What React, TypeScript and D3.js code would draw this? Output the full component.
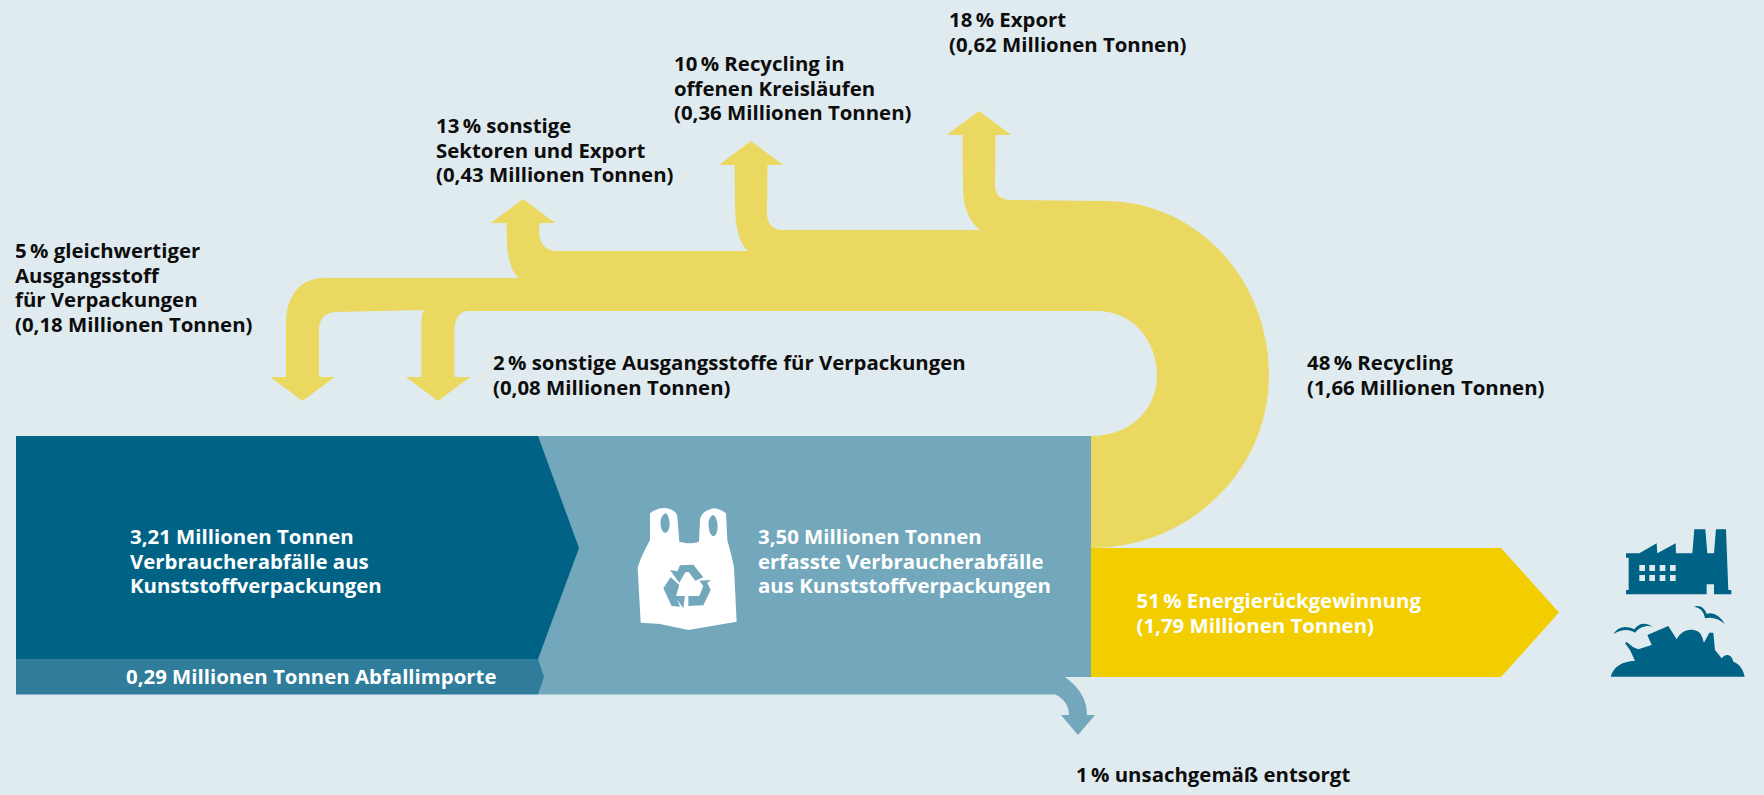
import React from "react";
import * as d3 from "d3";

// ---------- data (million tonnes, shares, labels) ----------
const collectedStack = [3.21, 0.29];
const recyclingTotal = [1.66];
const energyRecovery = [1.79];
const recyclingOutflows = [0.18, 0.08, 0.43, 0.36, 0.62];

const inputLabels = [
  ["3,21 Millionen Tonnen", "Verbraucherabfälle aus", "Kunststoffverpackungen"],
  ["0,29 Millionen Tonnen Abfallimporte"],
  ["3,50 Millionen Tonnen", "erfasste Verbraucherabfälle", "aus Kunststoffverpackungen"],
  ["51\u2009% Energierückgewinnung", "(1,79 Millionen Tonnen)"],
];
const outflowLabels = [
  ["5\u2009% gleichwertiger", "Ausgangsstoff", "für Verpackungen", "(0,18 Millionen Tonnen)"],
  ["2\u2009% sonstige Ausgangsstoffe für Verpackungen", "(0,08 Millionen Tonnen)"],
  ["13\u2009% sonstige", "Sektoren und Export", "(0,43 Millionen Tonnen)"],
  ["10\u2009% Recycling in", "offenen Kreisläufen", "(0,36 Millionen Tonnen)"],
  ["18\u2009% Export", "(0,62 Millionen Tonnen)"],
  ["48\u2009% Recycling", "(1,66 Millionen Tonnen)"],
  ["1\u2009% unsachgemäß entsorgt"],
];

// ---------- layout ----------
const W = 1764, H = 795;
const C = {
  bg: "#e0ebf0", yellow: "#ebd861", dark: "#006385", light: "#72a7bc", imp: "#2f7c9b",
  gold: "#f2ce00", ink: "#0d0d0d",
};
const FONT = "'Open Sans', sans-serif";
const FS = 20.4, LH = 24.6;

const [left, notch, tipDark, tipImp, right] = [16, 538, 579, 544, 1091];
const stackCum = [0, ...d3.cumsum(collectedStack)];
const stackY = d3.scaleLinear().domain(stackCum).range([436, 659, 694.5]);
const recyclingY = d3.scaleLinear().domain([0, recyclingTotal[0]]).range([436, 548]);
const energyY = d3.scaleLinear().domain([0, energyRecovery[0]]).range([548, 677]);
const cumOut = [0, ...d3.cumsum(recyclingOutflows)];
// top edge of the band at each remaining level
const levelY = d3.scaleLinear().domain([cumOut[0], cumOut[2], cumOut[3], cumOut[4], cumOut[5]]).range([311, 278, 251, 230, 201]);

const STEM = 33, HEAD_W = 64.5, HEAD_H = 24;

function upHead(p: any, cx: number, y: number) {
  p.lineTo(cx - STEM / 2, y);
  p.lineTo(cx - HEAD_W / 2, y);
  p.lineTo(cx, y - HEAD_H);
  p.lineTo(cx + HEAD_W / 2, y);
  p.lineTo(cx + STEM / 2, y);
}
function downHead(p: any, cx: number, y: number) {
  p.lineTo(cx + STEM / 2, y);
  p.lineTo(cx + HEAD_W / 2, y);
  p.lineTo(cx, y + HEAD_H);
  p.lineTo(cx - HEAD_W / 2, y);
  p.lineTo(cx - STEM / 2, y);
}

function recyclingPath() {
  const p = d3.path();
  const y0 = recyclingY(0), y1 = recyclingY(recyclingTotal[0]);
  const bottom = levelY(0), lv1 = levelY(cumOut[2]), lv2 = levelY(cumOut[3]), lv3 = levelY(cumOut[4]), lv4 = levelY(cumOut[5]);
  p.moveTo(right, y0);
  p.bezierCurveTo(1130, y0, 1157, 410, 1157, 375);
  p.bezierCurveTo(1157, 340, 1132, bottom, 1097, bottom);
  p.lineTo(469, bottom);
  p.bezierCurveTo(460, bottom, 454.5, 318, 454.5, 330);
  downHead(p, 438, 377);
  p.lineTo(421.5, 322);
  p.bezierCurveTo(421.5, 316, 422, 313, 424, 310);
  p.lineTo(337, 312);
  p.bezierCurveTo(326, 312, 319, 318, 319, 330);
  downHead(p, 302.5, 377);
  p.lineTo(286, 325);
  p.bezierCurveTo(286, 295, 300, lv1, 325, lv1);
  p.lineTo(519, lv1);
  p.bezierCurveTo(511, 272, 507, 256, 507, 240);
  upHead(p, 523, 223);
  p.lineTo(539, 232);
  p.bezierCurveTo(539, 243, 546, lv2, 556, lv2);
  p.lineTo(748, lv2);
  p.bezierCurveTo(739, 243, 735, 226, 735, 205);
  upHead(p, 751, 165);
  p.lineTo(767, 213);
  p.bezierCurveTo(767, 224, 773, lv3, 783, lv3);
  p.lineTo(980, lv3);
  p.bezierCurveTo(970, 222, 963, 208, 963, 188);
  upHead(p, 979, 135);
  p.lineTo(995, 186);
  p.bezierCurveTo(995, 195, 1001, lv4 - 1, 1011, lv4 - 1);
  p.lineTo(1105, lv4);
  p.bezierCurveTo(1196, lv4, 1269, 279, 1269, 375);
  p.bezierCurveTo(1269, 471, 1189, y1, right, y1);
  p.closePath();
  return p.toString();
}

function poly(pts: number[][]) {
  const p = d3.path();
  pts.forEach(([x, y], i) => (i ? p.lineTo(x, y) : p.moveTo(x, y)));
  p.closePath();
  return p.toString();
}

function collectedPath() {
  const p = d3.path();
  const t = stackY(stackCum[0]), b = stackY(stackCum[2]);
  p.moveTo(notch, t);
  p.lineTo(right, t);
  p.lineTo(right, energyY(energyRecovery[0]));
  p.lineTo(1065, energyY(energyRecovery[0]));
  p.bezierCurveTo(1080, 688, 1087, 700, 1087, 715);
  p.lineTo(1095, 715);
  p.lineTo(1078, 735);
  p.lineTo(1061, 715);
  p.lineTo(1069, 715);
  p.bezierCurveTo(1069, 706, 1064, 698, 1055, b);
  p.lineTo(notch, b);
  p.closePath();
  return p.toString();
}

function Label({ lines, x, y, fill = C.ink }: any) {
  return (
    <text x={x} y={y} fontFamily={FONT} fontSize={FS} fontWeight={700} fill={fill}>
      {lines.map((l: string, i: number) => (
        <tspan key={i} x={x} y={y + i * LH}>{l}</tspan>
      ))}
    </text>
  );
}

function Bag() {
  return (
    <g transform="translate(620,490) scale(0.3333)">
      <path fill="#fff" fillRule="evenodd" d="M90,70 C105,58 125,52 140,55 C160,58 172,70 172,80 L178,155 C195,160 215,162 237,155 L240,90 C242,70 262,57 285,55 C300,58 312,65 318,70 L322,150 C330,180 338,210 342,232 L350,395 L205,420 L120,402 L62,398 L53,235 C60,205 80,170 90,150 Z M136,70 C125,75 120,90 122,105 C124,120 130,130 138,128 C148,125 150,105 148,92 C146,80 142,70 136,70 Z M278,75 C268,80 264,95 266,110 C268,130 275,140 282,138 C292,135 294,115 292,100 C290,88 286,75 278,75 Z" />
      <g fill={C.light}>
        <path d="M150,240 L172,244 L180,226 L220,224 L250,262 L226,272 L206,246 L196,247 L178,278 Z" />
        <path d="M205,348 L205,318 L238,318 L250,288 L238,272 L274,270 L262,278 L272,300 L250,346 Z" />
        <path d="M130,295 L152,262 L178,285 L168,318 L195,318 L190,355 L172,330 L180,350 L155,348 Z" />
      </g>
    </g>
  );
}

function Icons() {
  return (
    <g transform="translate(1590,510) scale(0.3333)" fill={C.dark}>
      <path fillRule="evenodd" d="M108,130 L148,130 L200,100 L202,130 L257,100 L258,130 L307,130 L313,58 L346,58 L352,130 L372,130 L378,58 L408,58 L415,240 L424,240 L424,253 L372,253 L372,223 L350,223 L350,253 L108,253 L108,240 L116,240 L116,143 L108,143 Z M148,165 h17 v18 h-17 Z M178,165 h17 v18 h-17 Z M209,165 h17 v18 h-17 Z M240,165 h17 v18 h-17 Z M148,195 h17 v18 h-17 Z M178,195 h17 v18 h-17 Z M209,195 h17 v18 h-17 Z M240,195 h17 v18 h-17 Z" />
      <path d="M70,372 C85,350 105,345 133,358 C145,340 165,335 188,350 C170,345 150,350 135,368 C115,355 95,358 70,372 Z" />
      <path d="M312,290 C330,283 345,295 350,312 C365,305 390,315 404,342 C385,325 365,320 345,325 C342,305 330,292 312,290 Z" />
      <path d="M62,500 C70,470 95,455 135,452 L120,420 L105,400 L110,396 L130,412 L145,418 L185,405 L172,375 L235,348 L260,388 C270,365 300,350 325,365 C335,372 338,385 342,398 L358,368 L370,368 L375,420 L395,445 C405,430 425,430 430,455 C450,462 460,480 464,500 Z" />
    </g>
  );
}

export default function App() {
  const t = stackY(stackCum[0]), m = stackY(stackCum[1]), b = stackY(stackCum[2]);
  const gt = energyY(0), gb = energyY(energyRecovery[0]);
  return (
    <svg width={W} height={H} viewBox={`0 0 ${W} ${H}`} style={{ position: "absolute", left: 0, top: 0, display: "block", background: C.bg }}>
      <path d={recyclingPath()} fill={C.yellow} />
      <path d={collectedPath()} fill={C.light} />
      <path d={poly([[left, t], [notch, t], [tipDark, (t + gb - 17) / 2 + 0], [notch, m], [left, m]])} fill={C.dark} />
      <path d={poly([[left, m], [notch, m], [tipImp, (m + b) / 2], [notch, b], [left, b]])} fill={C.imp} />
      <path d={poly([[right, gt], [1501, gt], [1559, (gt + gb) / 2], [1501, gb], [right, gb]])} fill={C.gold} />
      <Bag />
      <Icons />
      <Label lines={inputLabels[0]} x={130} y={544} fill="#fff" />
      <Label lines={inputLabels[1]} x={126} y={684} fill="#fff" />
      <Label lines={inputLabels[2]} x={758} y={544} fill="#fff" />
      <Label lines={inputLabels[3]} x={1136.5} y={608} fill="#fff" />
      <Label lines={outflowLabels[0]} x={15} y={258} />
      <Label lines={outflowLabels[1]} x={493} y={370} />
      <Label lines={outflowLabels[2]} x={436} y={133} />
      <Label lines={outflowLabels[3]} x={674} y={71} />
      <Label lines={outflowLabels[4]} x={949} y={27} />
      <Label lines={outflowLabels[5]} x={1307} y={370} />
      <Label lines={outflowLabels[6]} x={1076} y={782} />
    </svg>
  );
}
